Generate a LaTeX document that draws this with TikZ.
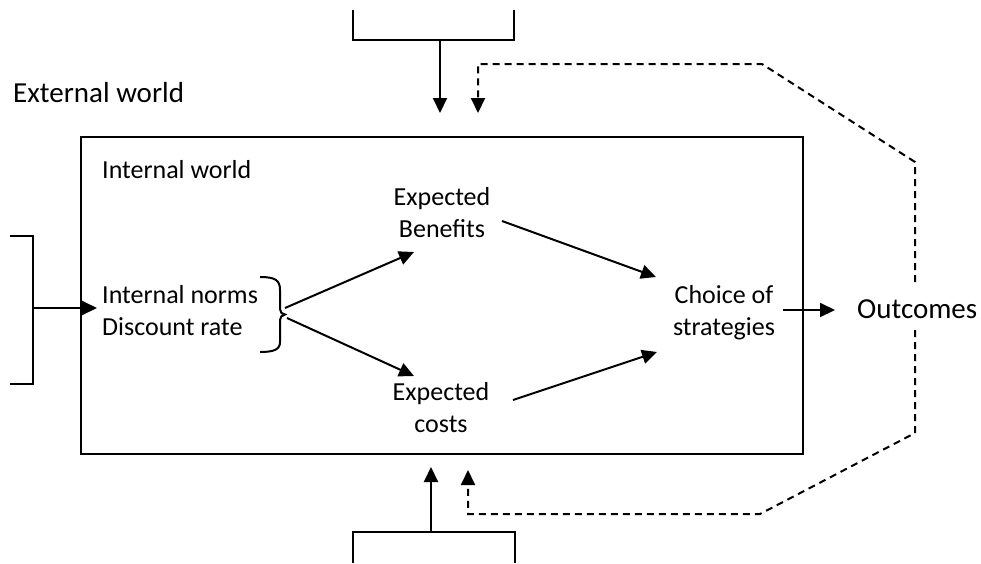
\documentclass[tikz,border=0pt]{standalone}
\usepackage{fontspec}
\setmainfont{Carlito}
\usetikzlibrary{arrows.meta,calc}
\begin{document}
\begin{tikzpicture}[x=1pt,y=-1pt,
  line/.style={line width=2pt},
  tip/.style={-{Triangle[length=15pt,width=14pt]}},
  arr/.style={line, tip},
  dline/.style={line, dash pattern=on 7pt off 5pt},
  darr/.style={dline, tip},
  lbl/.style={inner sep=0pt, font=\fontsize{26}{32}\selectfont},
  big/.style={inner sep=0pt, font=\fontsize{29}{35}\selectfont},
]
\useasboundingbox[fill=white] (0,0) rectangle (981,563);

% internal world frame
\node (inner) [draw, line width=2pt, minimum width=722pt, minimum height=317pt, inner sep=0pt] at (442,295.5) {};

% labels (multi-line nodes sit on the baseline of their last line)
\node (ext)  [big, anchor=base west] at (13,102) {External world};
\node (intw) [lbl, anchor=base west] at (102,178) {Internal world};
\node (norms) [lbl, anchor=base west, align=left] at (102,335) {Internal norms\\Discount rate};
\node (ben)  [lbl, anchor=base, align=center] at (442,237) {Expected\\Benefits};
\node (cost) [lbl, anchor=base, align=center] at (441,432) {Expected\\costs};
\node (choice) [lbl, anchor=base, align=center] at (724,335) {Choice of\\strategies};
\node (out)  [big, anchor=base west] at (857,318) {Outcomes};

% brace grouping the norms
\draw[line] (260,277) .. controls (275,277) and (280,280) .. (280,290) -- (280,309)
  .. controls (280,312) and (282,314.5) .. (285,314.5)
  .. controls (282,315) and (280,317) .. (280,320) -- (280,342)
  .. controls (280,349) and (275,352) .. (260,352);
\coordinate (bra) at (285,308);
\coordinate (brb) at (287,318);

% outside inputs: top, bottom and left brackets
\draw[line] (353,10) -- (353,40) -- (514,40) -- (514,10);
\draw[line] (353,563) -- (353,532) -- (515,532) -- (515,563);
\draw[line] (10,236) -- (33,236) -- (33,384) -- (10,384);
\coordinate (topb) at (440,40);
\coordinate (topin) at (440,113);
\coordinate (botb) at (431,532);
\coordinate (botin) at (431,467);
\coordinate (leftb) at (33,308);
\coordinate (leftin) at (97,308);

\draw[arr] (topb) -- (topin);
\draw[arr] (botb) -- (botin);
\draw[arr] (leftb) -- (leftin);

% flows inside the internal world
\coordinate (benin) at (414,252);
\coordinate (costin) at (414,376);
\coordinate (benout) at (502,221);
\coordinate (costout) at (513,400);
\coordinate (chA) at (656,277);
\coordinate (chB) at (657,352);
\draw[arr] (bra) -- (benin);
\draw[arr] (brb) -- (costin);
\draw[arr] (benout) -- (chA);
\draw[arr] (costout) -- (chB);

% choice to outcomes
\coordinate (chout) at (783,310);
\coordinate (outin) at (835,310);
\draw[arr] (chout) -- (outin);

% feedback from outcomes
\coordinate (fbtop) at (915,282);
\coordinate (fbbot) at (915,330);
\coordinate (fbin1) at (478,113);
\coordinate (fbin2) at (468,470);
\draw[darr] (fbtop) -- (915,162) -- (762,64) -- (478,64) -- (fbin1);
\draw[darr] (fbbot) -- (915,433) -- (760,514) -- (468,514) -- (fbin2);
\end{tikzpicture}
\end{document}
